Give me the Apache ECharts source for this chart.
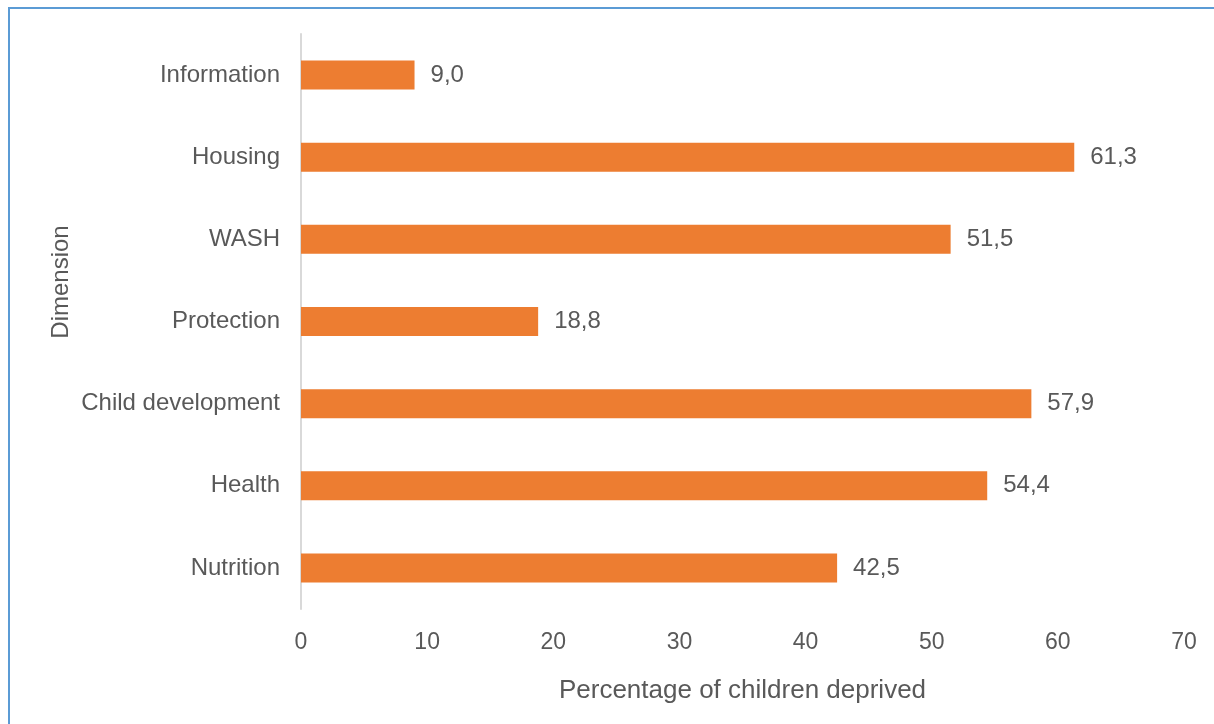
<!DOCTYPE html>
<html>
<head>
<meta charset="utf-8">
<title>Percentage of children deprived by dimension</title>
<script src="https://cdn.jsdelivr.net/npm/echarts@6/dist/echarts.min.js"></script>
<style>
  html, body { margin: 0; padding: 0; background: #ffffff; }
  #chart { width: 1214px; height: 724px; }
</style>
</head>
<body>
<div id="chart"></div>
<script>
// Dimensions listed bottom to top, as they stack on the category axis
const dimensions = ['Nutrition', 'Health', 'Child development', 'Protection', 'WASH', 'Housing', 'Information'];
const deprivedPct = [42.5, 54.4, 57.9, 18.8, 51.5, 61.3, 9.0];
const xTicks = { min: 0, max: 70, interval: 10 };

const textColor = '#595959';
const fontFamily = 'Liberation Sans, Arial, sans-serif';

const chart = echarts.init(document.getElementById('chart'), null, { renderer: 'canvas' });

chart.setOption({
  backgroundColor: '#ffffff',
  animation: false,
  textStyle: { fontFamily: fontFamily, color: textColor },
  grid: { left: 301, right: 30, top: 34, bottom: 115, containLabel: false },
  xAxis: {
    type: 'value',
    min: xTicks.min,
    max: xTicks.max,
    interval: xTicks.interval,
    axisLine: { show: false },
    axisTick: { show: false },
    splitLine: { show: false },
    axisLabel: { color: textColor, fontSize: 23, margin: 22, fontFamily: fontFamily },
    name: 'Percentage of children deprived',
    nameLocation: 'middle',
    nameGap: 69,
    nameTextStyle: { color: textColor, fontSize: 26, fontFamily: fontFamily }
  },
  yAxis: {
    type: 'category',
    data: dimensions,
    axisLine: { show: true, lineStyle: { color: '#d9d9d9', width: 2 } },
    axisTick: { show: false },
    axisLabel: { color: textColor, fontSize: 24, margin: 21, fontFamily: fontFamily, padding: [3, 0, 0, 0] }
  },
  series: [{
    type: 'bar',
    data: deprivedPct,
    barWidth: 29,
    itemStyle: { color: '#ED7D31' },
    label: {
      show: true,
      position: 'right',
      distance: 16,
      color: textColor,
      fontSize: 24,
      fontFamily: fontFamily,
      padding: [3, 0, 0, 0],
      formatter: p => p.value.toFixed(1).replace('.', ',')
    }
  }],
  graphic: [
    {
      type: 'rect',
      shape: { x: 9, y: 8, width: 1400, height: 900 },
      style: { fill: 'none', stroke: '#5B9BD5', lineWidth: 2 },
      silent: true
    },
    {
      type: 'text',
      x: 61,
      y: 282,
      rotation: Math.PI / 2,
      style: {
        text: 'Dimension',
        fill: textColor,
        font: '24px ' + fontFamily,
        align: 'center',
        verticalAlign: 'middle'
      }
    }
  ]
});
</script>
</body>
</html>
